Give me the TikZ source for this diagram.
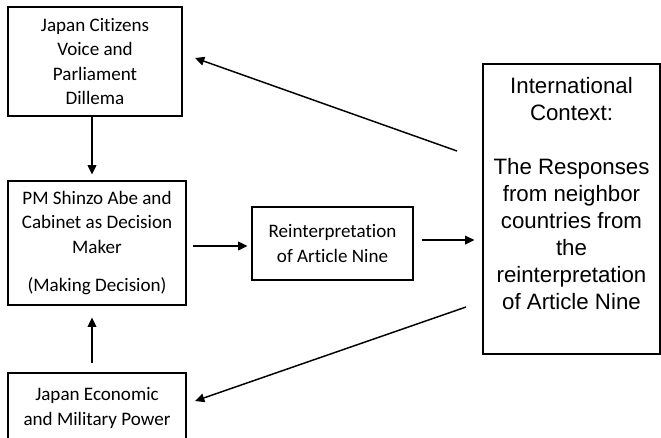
\documentclass[tikz,border=0pt]{standalone}
\usepackage{fontspec}
\setmainfont{Carlito}[Ligatures=NoCommon]
\newfontfamily\arialfont{Liberation Sans}
\usetikzlibrary{arrows.meta}
\begin{document}
\begin{tikzpicture}[x=0.75pt,y=-0.75pt,
  box/.style={draw=black, line width=0.8pt, align=center, inner sep=0pt,
              font=\fontsize{14.3pt}{18.4pt}\selectfont},
  bigbox/.style={box, font=\arialfont\fontsize{16.7pt}{20.25pt}\selectfont},
  arr/.style={line width=1.1pt, -{Triangle[length=7pt,width=6.5pt]}}]
\useasboundingbox (0,0) rectangle (661,437);

\node[box, minimum width=130.5pt, minimum height=81.75pt] (cit) at (95,61.5)
  {Japan Citizens\\Voice and\\Parliament\\Dillema};
\node[box, minimum width=133.5pt, minimum height=93pt] (pm) at (97,243)
  {PM Shinzo Abe and\\Cabinet as Decision\\Maker\\[10.5pt](Making Decision)};
\node[box, minimum width=120.75pt, minimum height=54.75pt] (rei) at (332.5,243.5)
  {Reinterpretation\\of Article Nine};
\node[bigbox, minimum width=132.75pt, minimum height=217.5pt] (int) at (571.5,209)
  {International\\Context:\\[20.25pt]The Responses\\from neighbor\\countries from\\the\\reinterpretation\\of Article Nine\\[3.75pt]\mbox{}};
\node[box, minimum width=133.5pt, minimum height=52.5pt] (eco) at (97,408)
  {Japan Economic\\and Military Power};

\draw[arr, shorten >=4.5pt] ([xshift=-2.25pt]cit.south) -- ([xshift=-2.25pt]cit.south |- pm.north);
\draw[arr, shorten <=7pt, shorten >=9pt] ([xshift=-3.75pt]eco.north) -- ([xshift=-3.75pt]eco.north |- pm.south);
\draw[arr, shorten <=5pt, shorten >=3pt] ([yshift=-2.25pt]pm.east) -- ([yshift=-2.25pt]pm.east -| rei.west);
\draw[arr, shorten <=6pt, shorten >=6pt] ([yshift=2.6pt]rei.east) -- ([yshift=2.6pt]rei.east -| int.west);

\coordinate (t1) at (457,151);
\coordinate (h1) at (195,58);
\coordinate (t2) at (466,307);
\coordinate (h2) at (195,401);
\draw[arr] (t1) -- (h1);
\draw[arr] (t2) -- (h2);
\end{tikzpicture}
\end{document}
